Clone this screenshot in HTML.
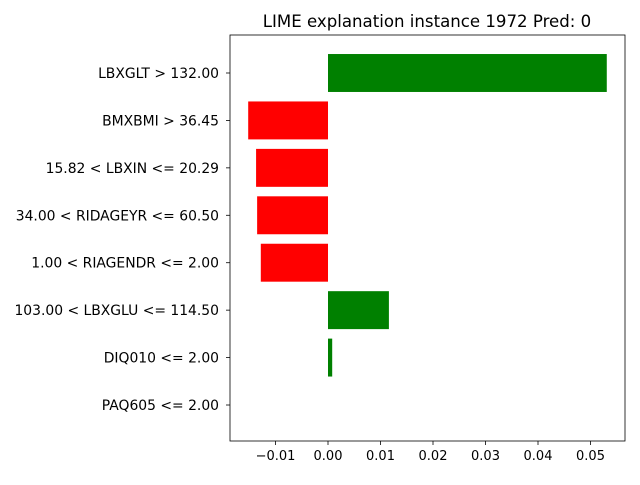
<!DOCTYPE html>
<html><head><meta charset="utf-8"><style>
body{margin:0;background:#fff;}
svg text{font-family:"DejaVu Sans","Liberation Sans",sans-serif;}
</style></head><body>
<svg id="chart" width="640" height="480" xmlns="http://www.w3.org/2000/svg">
<text x="427" y="27" font-size="16.6" text-anchor="middle">LIME explanation instance 1972 Pred: 0</text>
<g id="bars"></g>
<g id="axes"></g>
</svg>
<script>
const features = ["LBXGLT > 132.00","BMXBMI > 36.45","15.82 < LBXIN <= 20.29","34.00 < RIDAGEYR <= 60.50","1.00 < RIAGENDR <= 2.00","103.00 < LBXGLU <= 114.50","DIQ010 <= 2.00","PAQ605 <= 2.00"];
const weights = [0.0531,-0.0152,-0.0137,-0.0135,-0.0128,0.0116,0.0008,0.0];
const xTicks = [-0.01,0.00,0.01,0.02,0.03,0.04,0.05];
const xTickLabels = ["−0.01","0.00","0.01","0.02","0.03","0.04","0.05"];

const L=230,R=625,T=35,B=441;
const xmin=-0.018667,xmax=0.056571;
const x=v=>L+(v-xmin)/(xmax-xmin)*(R-L);
const n=features.length;
const ymin=-0.78,ymax=n-1+0.78;
const y=i=>T+1+(i-ymin)/(ymax-ymin)*(B-T);
const ns="http://www.w3.org/2000/svg";
const bars=document.getElementById('bars'),axes=document.getElementById('axes');
function mk(tag,attrs,parent){const e=document.createElementNS(ns,tag);for(const k in attrs)e.setAttribute(k,attrs[k]);parent.appendChild(e);return e;}
const unit=(B-T)/(ymax-ymin);
features.forEach((f,i)=>{
  const w=weights[i];
  const x0=x(Math.min(0,w)),x1=x(Math.max(0,w));
  const r=mk('rect',{x:x0,y:y(i)-0.4*unit,width:Math.max(0,x1-x0),height:0.8*unit,fill:w>0?'green':'red'},bars);
  
  
  mk('line',{x1:L,x2:L-4,y1:y(i),y2:y(i),stroke:'#000','stroke-width':0.8},axes);
  const t=mk('text',{x:L-11,y:y(i)+5,'font-size':13.9,'text-anchor':'end'},axes);
  t.textContent=f;
  
  
});
xTicks.forEach((v,i)=>{
  mk('line',{x1:x(v),x2:x(v),y1:B,y2:B+4,stroke:'#000','stroke-width':0.8},axes);
  const t=mk('text',{x:x(v),y:B+19,'font-size':13,'text-anchor':'middle'},axes);
  t.textContent=xTickLabels[i];
  
  
});
const fr=mk('rect',{x:L,y:T,width:R-L,height:B-T,fill:'none',stroke:'#000','stroke-width':0.8},axes);


</script>
</body></html>
